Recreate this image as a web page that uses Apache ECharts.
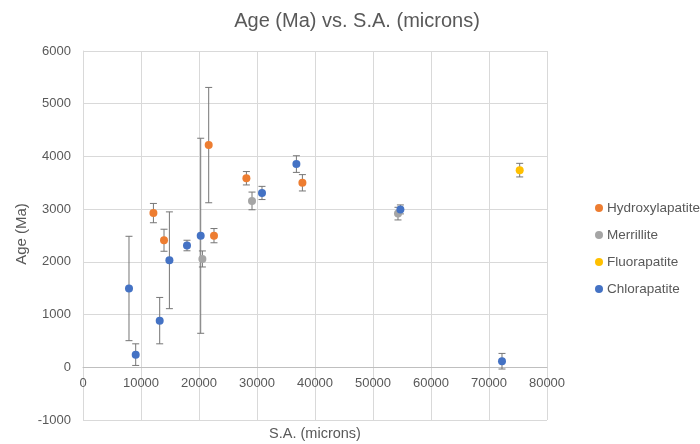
<!DOCTYPE html>
<html>
<head>
<meta charset="utf-8">
<script src="https://cdn.jsdelivr.net/npm/echarts@6/dist/echarts.min.js"></script>
<style>
html,body{margin:0;padding:0;background:#fff;}
#chart{width:700px;height:444px;}
</style>
</head>
<body>
<div id="chart"></div>
<script>
// Data: [S.A. (microns), Age (Ma), error (±Ma)]
var seriesNames = ['Hydroxylapatite', 'Merrillite', 'Fluorapatite', 'Chlorapatite'];
var seriesColors = ['#ED7D31', '#A5A5A5', '#FFC000', '#4472C4'];
var hydroxylapatite = [
  [12140, 2925, 183],
  [13966, 2410, 209],
  [21672, 4215, 1094],
  [22586, 2497, 135],
  [28172, 3586, 127],
  [37828, 3500, 155]
];
var merrillite = [
  [20586, 2055, 152],
  [29138, 3156, 168],
  [54310, 2915, 120]
];
var fluorapatite = [
  [75293, 3740, 129]
];
var chlorapatite = [
  [7931, 1495, 990],
  [9086, 240, 205],
  [13224, 885, 440],
  [14897, 2030, 918],
  [17931, 2310, 100],
  [20293, 2495, 1850],
  [30862, 3307, 125],
  [36793, 3855, 158],
  [54724, 2995, 85],
  [72241, 115, 148]
];
var xTicks = [0, 10000, 20000, 30000, 40000, 50000, 60000, 70000, 80000];
var yTicks = [-1000, 0, 1000, 2000, 3000, 4000, 5000, 6000];

var allData = [hydroxylapatite, merrillite, fluorapatite, chlorapatite];
var FONT = '"Liberation Sans", Arial, sans-serif';
var TXT = '#595959';

var gridTop = 51, gridBottom = 24, H = 444;
var gridH = H - gridTop - gridBottom;
var yMin = yTicks[0], yMax = yTicks[yTicks.length - 1];
// move the x axis up so it sits at y = 0 (as in the reference)
var xAxisOffset = -(0 - yMin) / (yMax - yMin) * gridH;

function errRender(params, api) {
  var x = api.value(0), y = api.value(1), e = api.value(2);
  var top = api.coord([x, y + e]);
  var bot = api.coord([x, y - e]);
  var cap = 3.5;
  var style = {stroke: '#767676', lineWidth: 1, fill: null};
  return {
    type: 'group',
    children: [
      {type: 'line', shape: {x1: top[0], y1: top[1], x2: bot[0], y2: bot[1]}, style: style},
      {type: 'line', shape: {x1: top[0] - cap, y1: top[1], x2: top[0] + cap, y2: top[1]}, style: style},
      {type: 'line', shape: {x1: bot[0] - cap, y1: bot[1], x2: bot[0] + cap, y2: bot[1]}, style: style}
    ]
  };
}

var series = [];
allData.forEach(function (d, i) {
  series.push({
    name: seriesNames[i] + ' error',
    type: 'custom',
    renderItem: errRender,
    data: d,
    encode: {x: 0, y: 1},
    z: 2,
    silent: true
  });
});
allData.forEach(function (d, i) {
  series.push({
    name: seriesNames[i],
    type: 'scatter',
    data: d.map(function (p) { return [p[0], p[1]]; }),
    symbol: 'circle',
    symbolSize: 8,
    itemStyle: {color: seriesColors[i], opacity: 1},
    z: 3
  });
});

function plain(v) { return String(v); }

var chart = echarts.init(document.getElementById('chart'), null, {renderer: 'canvas'});
chart.setOption({
  animation: false,
  backgroundColor: '#ffffff',
  title: {
    text: 'Age (Ma) vs. S.A. (microns)',
    left: 352, top: 6,
    textAlign: 'center',
    textStyle: {fontFamily: FONT, fontSize: 20, fontWeight: 'normal', color: TXT}
  },
  legend: {
    orient: 'vertical',
    left: 590, top: 196,
    itemWidth: 8, itemHeight: 8,
    itemGap: 13,
    icon: 'circle',
    data: seriesNames,
    textStyle: {fontFamily: FONT, fontSize: 13.5, color: TXT, padding: [0, 0, 0, -1]}
  },
  grid: {left: 83, right: 153, top: gridTop, bottom: gridBottom, containLabel: false},
  xAxis: {
    type: 'value',
    min: xTicks[0], max: xTicks[xTicks.length - 1], interval: 10000,
    offset: xAxisOffset,
    axisLine: {onZero: false, lineStyle: {color: '#BFBFBF', width: 1}},
    axisTick: {show: false},
    axisLabel: {fontFamily: FONT, fontSize: 13, color: TXT, margin: 10, formatter: plain},
    splitLine: {show: true, lineStyle: {color: '#D9D9D9', width: 1}}
  },
  yAxis: {
    type: 'value',
    min: yMin, max: yMax, interval: 1000,
    axisLine: {show: true, lineStyle: {color: '#D9D9D9', width: 1}},
    axisTick: {show: false},
    axisLabel: {fontFamily: FONT, fontSize: 13, color: TXT, margin: 12, formatter: plain},
    splitLine: {show: true, lineStyle: {color: '#D9D9D9', width: 1}}
  },
  graphic: [
    {type: 'text', x: 315, y: 426,
      style: {text: 'S.A. (microns)', textAlign: 'center', font: '14.5px ' + FONT, fill: TXT}},
    {type: 'text', x: 22, y: 234, rotation: Math.PI / 2,
      style: {text: 'Age (Ma)', textAlign: 'center', textVerticalAlign: 'middle', font: '15px ' + FONT, fill: TXT}}
  ],
  series: series
});
</script>
</body>
</html>
